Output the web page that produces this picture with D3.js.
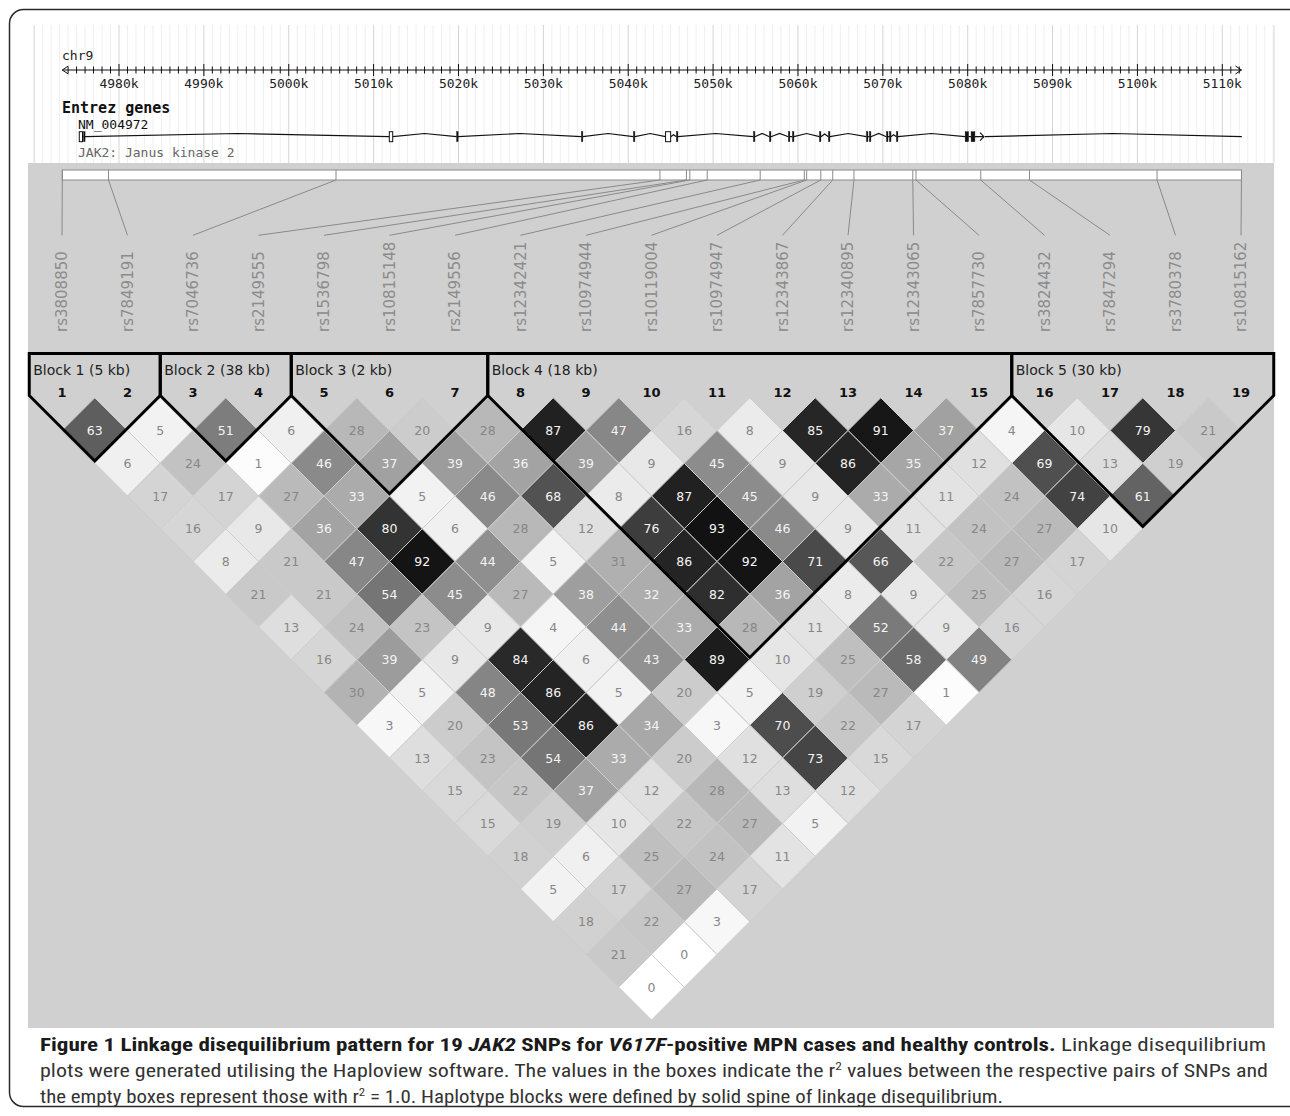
<!DOCTYPE html>
<html><head><meta charset="utf-8">
<script src="https://cdn.jsdelivr.net/npm/d3@7"></script>
<style>body{margin:0;background:#fff}svg{display:block}</style>
</head><body>
<svg id="c" width="1290" height="1116"></svg>
<script>
// ---------------- data ----------------
const snpNames = ["rs3808850","rs7849191","rs7046736","rs2149555","rs1536798","rs10815148","rs2149556","rs12342421","rs10974944","rs10119004","rs10974947","rs12343867","rs12340895","rs12343065","rs7857730","rs3824432","rs7847294","rs3780378","rs10815162"];
const snpPosKb = [4973.32,4978.76,5005.57,5043.74,5046.86,5047.26,5049.31,5055.55,5060.75,5061.03,5062.69,5064.10,5066.60,5073.53,5073.91,5081.54,5087.28,5102.31,5112.26];
const rulerLabelKb = [4980,4990,5000,5010,5020,5030,5040,5050,5060,5070,5080,5090,5100,5110];
const geneName = "NM_004972";
const geneDesc = "JAK2: Janus kinase 2";
const geneStartKb = 4975.32, geneEndKb = 5112.3, geneArrowKb = 5081.8;
const exonStartKb = [4975.32,4975.82,5011.85,5019.78,5034.48,5040.61,5044.40,5045.68,5054.75,5056.64,5058.87,5059.35,5062.53,5063.59,5068.07,5068.42,5070.43,5070.78,5071.60,5079.70,5080.40];
const exonEndKb   = [4975.70,4976.00,5012.25,5019.95,5034.65,5040.78,5045.00,5045.85,5054.92,5056.81,5059.04,5059.52,5062.70,5063.76,5068.24,5068.59,5070.60,5070.95,5071.77,5080.10,5080.85];
const exonOpen    = [true,false,true,false,false,false,true,false,false,false,false,false,false,false,false,false,false,false,false,false,false];
const blockLabels = ["Block 1 (5 kb)","Block 2 (38 kb)","Block 3 (2 kb)","Block 4 (18 kb)","Block 5 (30 kb)"];
const blockFirst = [1,3,5,8,16];
const blockLast  = [2,4,7,15,19];
// r2 (x100) by marker distance d = j - i ; ldRows[d-1][i-1]
const ldRows = [
 [63,5,51,6,28,20,28,87,47,16,8,85,91,37,4,10,79,21],
 [6,24,1,46,37,39,36,39,9,45,9,86,35,12,69,13,19],
 [17,17,27,33,5,46,68,8,87,45,9,33,11,24,74,61],
 [16,9,36,80,6,28,12,76,93,46,9,11,24,27,10],
 [8,21,47,92,44,5,31,86,92,71,66,22,27,17],
 [21,21,54,45,27,38,32,82,36,8,9,25,16],
 [13,24,23,9,4,44,33,28,11,52,9,16],
 [16,39,9,84,6,43,89,10,25,58,49],
 [30,5,48,86,5,20,5,19,27,1],
 [3,20,53,86,34,3,70,22,17],
 [13,23,54,33,20,12,73,15],
 [15,22,37,12,28,13,12],
 [15,19,10,22,27,5],
 [18,6,25,24,11],
 [5,17,27,17],
 [18,22,3],
 [21,0],
 [0]
];
// ---------------- drawing ----------------
const svg = d3.select("#c");
const mono = "'DejaVu Sans Mono', monospace";
const sans = "'DejaVu Sans', sans-serif";

const kbX = d3.scaleLinear().domain([4980, 5110]).range([119, 1222.3]);
const mX = d3.scaleLinear().domain([1, 19]).range([62, 1241]);
const ldY = d3.scaleLinear().domain([1, 18]).range([430.5, 987.25]);
const half = (mX(2) - mX(1)) / 2;
const gray = d3.scaleLinear().domain([0, 100]).range(["#ffffff", "#000000"]);

// outer frame
svg.append("rect").attr("x", 9.5).attr("y", 9.5).attr("width", 1300).attr("height", 1097)
  .attr("rx", 14).attr("fill", "none").attr("stroke", "#2a2a2a").attr("stroke-width", 1.5);

// white panel grid
const panelTop = 25, panelBot = 163, panelL = 28, panelR = 1274;
const minor = d3.range(4969, 5117).filter(k => kbX(k) > panelL && kbX(k) < panelR);
svg.append("g").selectAll("line").data(minor).join("line")
  .attr("x1", d => kbX(d)).attr("x2", d => kbX(d)).attr("y1", panelTop).attr("y2", panelBot)
  .attr("stroke", d => d % 10 === 0 ? "#d4d4d4" : "#efefef").attr("stroke-width", 1);
svg.append("line").attr("x1", panelR).attr("x2", panelR).attr("y1", panelTop).attr("y2", panelBot)
  .attr("stroke", "#d8d8d8");

// ruler
const rY = 70;
const r0 = kbX(snpPosKb[0]), r1 = kbX(snpPosKb[snpPosKb.length - 1]);
const ruler = svg.append("g").attr("stroke", "#111").attr("stroke-width", 1).attr("fill", "none");
ruler.append("line").attr("x1", r0).attr("x2", r1).attr("y1", rY).attr("y2", rY);
ruler.append("path").attr("d", `M${r0+6},${rY-4}L${r0},${rY}L${r0+6},${rY+4}`);
ruler.append("path").attr("d", `M${r1-6},${rY-4}L${r1},${rY}L${r1-6},${rY+4}`);
const tickKb = d3.range(Math.ceil(snpPosKb[0]), Math.floor(snpPosKb[18]) + 1);
ruler.selectAll("line.t").data(tickKb).join("line").attr("class", "t")
  .attr("x1", d => kbX(d)).attr("x2", d => kbX(d))
  .attr("y1", d => d % 10 === 0 ? rY - 6 : rY - 3.5).attr("y2", d => d % 10 === 0 ? rY + 6 : rY + 3.5);
svg.append("g").selectAll("text").data(rulerLabelKb).join("text")
  .attr("x", d => kbX(d)).attr("y", 88.3).attr("text-anchor", "middle")
  .attr("font-family", mono).attr("font-size", 13).attr("fill", "#222").text(d => d + "k");
svg.append("text").attr("x", 62).attr("y", 60).attr("font-family", mono).attr("font-size", 13)
  .attr("fill", "#222").text("chr9");
svg.append("text").attr("x", 62).attr("y", 113).attr("font-family", mono).attr("font-size", 15)
  .attr("font-weight", "bold").attr("fill", "#111").text("Entrez genes");
svg.append("text").attr("x", 78).attr("y", 128.5).attr("font-family", mono).attr("font-size", 13)
  .attr("fill", "#111").text(geneName);
svg.append("text").attr("x", 78).attr("y", 156.5).attr("font-family", mono).attr("font-size", 13)
  .attr("fill", "#666").text(geneDesc);

// gene model
const gY = 136.7;
const gene = svg.append("g");
let pts = [];
const ex = exonStartKb.map((s, k) => ({s: kbX(s), e: kbX(exonEndKb[k]), open: exonOpen[k]}));
let gpath = "";
for (let k = 0; k < ex.length - 1; k++) {
  const a = ex[k].e, b = ex[k + 1].s;
  if (b - a < 4) { gpath += `M${a},${gY}L${b},${gY}`; continue; }
  const h = Math.min(3.2, (b - a) * 0.35);
  gpath += `M${a},${gY}L${(a + b) / 2},${gY - h}L${b},${gY}`;
}
const lastE = ex[ex.length - 1].e, gEnd = kbX(geneEndKb);
gpath += `M${lastE},${gY}L${kbX(geneArrowKb)},${gY}M${kbX(geneArrowKb)+2},${gY}L${(kbX(geneArrowKb)+gEnd)/2},${gY - 3.2}L${gEnd},${gY}`;
gene.append("path").attr("d", gpath).attr("fill", "none").attr("stroke", "#111").attr("stroke-width", 1.2);
const ax = kbX(geneArrowKb);
gene.append("path").attr("d", `M${ax-3},${gY-4}L${ax+1},${gY}L${ax-3},${gY+4}`).attr("fill", "none")
  .attr("stroke", "#111").attr("stroke-width", 1.2);
gene.selectAll("rect").data(ex).join("rect")
  .attr("x", d => d.s).attr("width", d => Math.max(1.5, d.e - d.s))
  .attr("y", gY - 5).attr("height", 10)
  .attr("fill", d => d.open ? "#fff" : "#111").attr("stroke", "#111").attr("stroke-width", d => d.open ? 1 : 0.4);

// gray LD area
svg.append("rect").attr("x", 28).attr("y", 163).attr("width", 1246).attr("height", 865).attr("fill", "#d0d0d0");

// SNP position bar
const bx0 = kbX(snpPosKb[0]), bx1 = kbX(snpPosKb[18]);
svg.append("rect").attr("x", bx0).attr("y", 170).attr("width", bx1 - bx0).attr("height", 10)
  .attr("fill", "#fff").attr("stroke", "#8a8a8a").attr("stroke-width", 1);
const snps = snpNames.map((n, k) => ({name: n, pos: snpPosKb[k], idx: k + 1}));
svg.append("g").selectAll("line").data(snps).join("line")
  .attr("x1", d => kbX(d.pos)).attr("x2", d => kbX(d.pos)).attr("y1", 170).attr("y2", 180)
  .attr("stroke", "#8a8a8a");
svg.append("g").selectAll("line").data(snps).join("line")
  .attr("x1", d => kbX(d.pos)).attr("y1", 180).attr("x2", d => mX(d.idx)).attr("y2", 235.3)
  .attr("stroke", "#8a8a8a").attr("stroke-width", 1);
svg.append("g").selectAll("text").data(snps).join("text")
  .attr("transform", d => `translate(${mX(d.idx)},332) rotate(-90)`)
  .attr("dy", "0.36em").attr("font-family", sans).attr("font-size", 15).attr("fill", "#8c8c8c")
  .text(d => d.name);

// LD cells
const cells = [];
ldRows.forEach((row, di) => row.forEach((v, ii) => cells.push({i: ii + 1, j: ii + 2 + di, d: di + 1, v})));
const cg = svg.append("g");
cg.selectAll("path").data(cells).join("path")
  .attr("d", c => {
    const cx = (mX(c.i) + mX(c.j)) / 2, cy = ldY(c.d);
    return `M${cx},${cy - half}L${cx + half},${cy}L${cx},${cy + half}L${cx - half},${cy}Z`;
  })
  .attr("fill", c => gray(c.v)).attr("stroke", "#cdcdcd").attr("stroke-width", 1);
cg.selectAll("text").data(cells).join("text")
  .attr("x", c => (mX(c.i) + mX(c.j)) / 2).attr("y", c => ldY(c.d)).attr("dy", "0.36em")
  .attr("text-anchor", "middle").attr("font-family", sans).attr("font-size", 12.5)
  .attr("fill", c => c.v >= 32 ? "#f4f4f4" : "#878787").text(c => c.v);

// block outlines
const bTop = 353.5, bApex = 395.5;
const blocks = blockLabels.map((l, k) => ({label: l, a: blockFirst[k], b: blockLast[k]}));
const bg = svg.append("g");
bg.selectAll("path").data(blocks).join("path")
  .attr("d", b => {
    const L = mX(b.a) - half, R = mX(b.b) + half;
    return `M${L},${bTop}L${L},${bApex}L${(L + R) / 2},${bApex + (R - L) / 2}L${R},${bApex}L${R},${bTop}Z`;
  })
  .attr("fill", "none").attr("stroke", "#000").attr("stroke-width", 3).attr("stroke-linejoin", "miter");
bg.selectAll("text").data(blocks).join("text")
  .attr("x", b => mX(b.a) - half + 4).attr("y", 375)
  .attr("font-family", sans).attr("font-size", 14).attr("fill", "#222").text(b => b.label);
svg.append("g").selectAll("text").data(d3.range(1, 20)).join("text")
  .attr("x", d => mX(d)).attr("y", 397).attr("text-anchor", "middle")
  .attr("font-family", sans).attr("font-size", 13).attr("font-weight", "bold").attr("fill", "#111")
  .text(d => d);

// caption
const capFont = "'Liberation Sans Narrow','Roboto Condensed','Liberation Sans',sans-serif";
const cap = svg.append("g").attr("font-family", capFont).attr("font-size", 18);
const l1 = cap.append("text").attr("x", 40).attr("y", 1051).attr("textLength", 1226).attr("lengthAdjust", "spacingAndGlyphs");
[["Figure 1 Linkage disequilibrium pattern for 19 ", "bold", "normal"],
 ["JAK2", "bold", "italic"], [" SNPs for ", "bold", "normal"], ["V617F", "bold", "italic"],
 ["-positive MPN cases and healthy controls.", "bold", "normal"],
 [" Linkage disequilibrium", "normal", "normal"]].forEach(s => {
  l1.append("tspan").attr("font-weight", s[1]).attr("font-style", s[2])
    .attr("fill", s[1] === "bold" ? "#1a1a1a" : "#333").text(s[0]);
});
const l2 = cap.append("text").attr("x", 40).attr("y", 1077).attr("textLength", 1228).attr("lengthAdjust", "spacingAndGlyphs").attr("fill", "#333");
l2.append("tspan").text("plots were generated utilising the Haploview software. The values in the boxes indicate the r");
l2.append("tspan").attr("font-size", 11).attr("dy", -7).text("2");
l2.append("tspan").attr("dy", 7).text(" values between the respective pairs of SNPs and");
const l3 = cap.append("text").attr("x", 40).attr("y", 1103).attr("textLength", 963).attr("lengthAdjust", "spacingAndGlyphs").attr("fill", "#333");
l3.append("tspan").text("the empty boxes represent those with r");
l3.append("tspan").attr("font-size", 11).attr("dy", -7).text("2");
l3.append("tspan").attr("dy", 7).text(" = 1.0. Haplotype blocks were defined by solid spine of linkage disequilibrium.");
</script>
</body></html>
